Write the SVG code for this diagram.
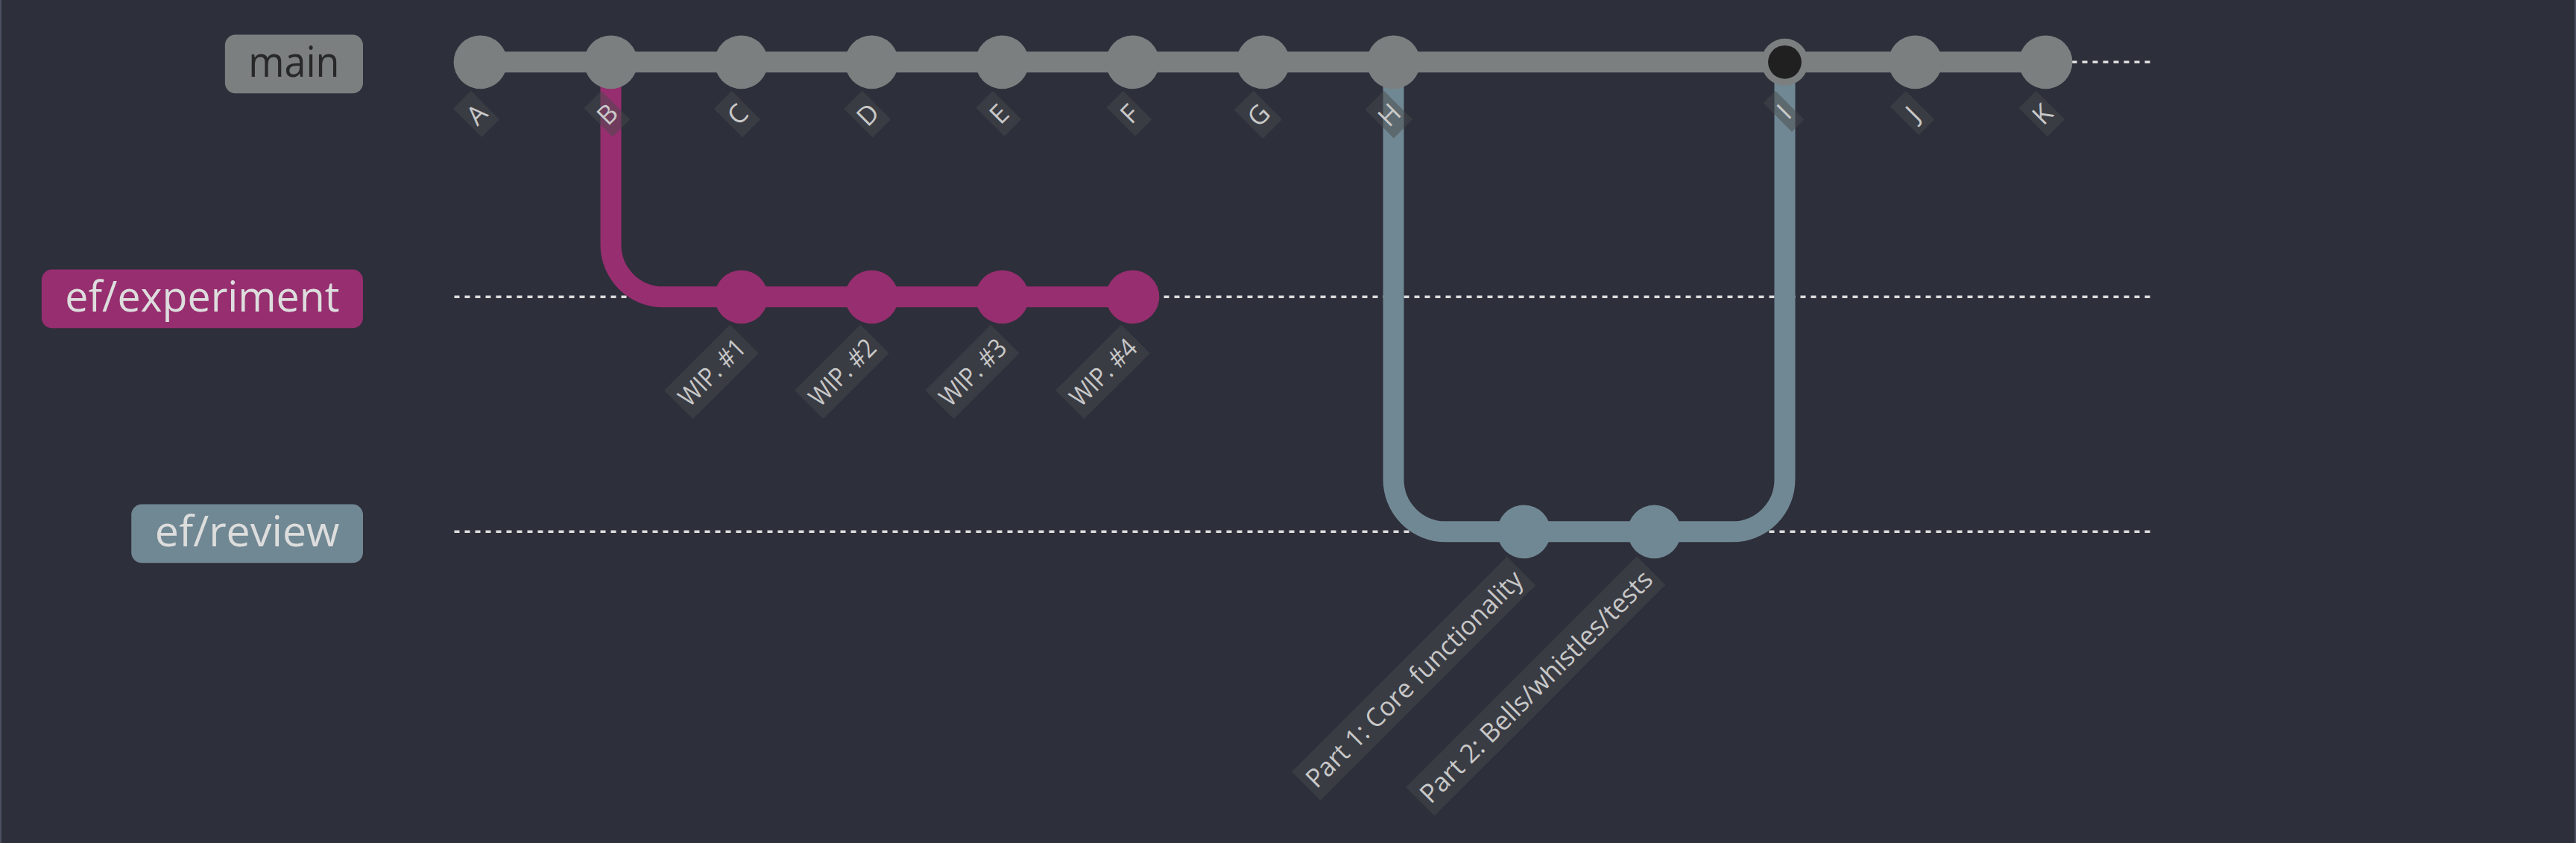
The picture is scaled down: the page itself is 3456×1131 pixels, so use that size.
<svg xmlns="http://www.w3.org/2000/svg" width="3456" height="1131" viewBox="0 0 3456 1131">
<style>
.bg{fill:#2d2f3b}
.edge{fill:#4b5061}
.lane{stroke:#dddddd;stroke-width:1;stroke-dasharray:2;fill:none}
.arrow{stroke-width:8;fill:none}
.c0{fill:#7b7f7f}
.c1{fill:#962e6f}
.c2{fill:#708893}
.a0{stroke:#7b7f7f}
.a1{stroke:#962e6f}
.a2{stroke:#708893}
.mergein{fill:#1f201f}
.lbl{fill:#474a4c;opacity:0.5}
.ltxt{font-family:"Open Sans","Noto Sans","Liberation Sans",sans-serif;font-size:10px;fill:#c8c8c8;text-anchor:middle}
.btxt{font-family:"Open Sans","Noto Sans","Liberation Sans",sans-serif;font-size:16px}
</style>
<rect class="bg" x="0" y="0" width="3456" height="1131"/>
<rect class="edge" x="0" y="0" width="2" height="1131"/>
<rect class="edge" x="3454" y="0" width="2" height="1131"/>
<g transform="translate(609.5,83.3) scale(3.5)">
  <g id="lanes">
    <line class="lane" x1="0" y1="0" x2="650" y2="0"/>
    <line class="lane" x1="0" y1="90" x2="650" y2="90"/>
    <line class="lane" x1="0" y1="180" x2="650" y2="180"/>
  </g>
  <g id="branch-main">
    <rect class="c0" x="-87.9" y="-10.5" width="52.9" height="22.5" rx="4" ry="4"/>
    <text class="btxt" x="-78.9" y="5.75" fill="#282828" textLength="34.9" lengthAdjust="spacingAndGlyphs">main</text>
  </g>
  <g id="branch-experiment">
    <rect class="c1" x="-158.2" y="79.5" width="123.2" height="22.5" rx="4" ry="4"/>
    <text class="btxt" x="-149.2" y="95.75" fill="#dddddd" textLength="105.2" lengthAdjust="spacingAndGlyphs">ef/experiment</text>
  </g>
  <g id="branch-review">
    <rect class="c2" x="-123.8" y="169.5" width="88.8" height="22.5" rx="4" ry="4"/>
    <text class="btxt" x="-114.8" y="185.75" fill="#dddddd" textLength="70.8" lengthAdjust="spacingAndGlyphs">ef/review</text>
  </g>
  <g id="connectors">
    <path class="arrow a0" d="M10 0 L60 0"/>
    <path class="arrow a0" d="M60 0 L110 0"/>
    <path class="arrow a0" d="M110 0 L160 0"/>
    <path class="arrow a0" d="M160 0 L210 0"/>
    <path class="arrow a0" d="M210 0 L260 0"/>
    <path class="arrow a0" d="M260 0 L310 0"/>
    <path class="arrow a0" d="M310 0 L360 0"/>
    <path class="arrow a0" d="M360 0 L510 0"/>
    <path class="arrow a0" d="M510 0 L560 0"/>
    <path class="arrow a0" d="M560 0 L610 0"/>
    <path class="arrow a1" d="M60 0 L60 70 A20 20 0 0 0 80 90 L110 90"/>
    <path class="arrow a1" d="M110 90 L160 90"/>
    <path class="arrow a1" d="M160 90 L210 90"/>
    <path class="arrow a1" d="M210 90 L260 90"/>
    <path class="arrow a2" d="M360 0 L360 160 A20 20 0 0 0 380 180 L410 180"/>
    <path class="arrow a2" d="M410 180 L460 180"/>
    <path class="arrow a2" d="M460 180 L490 180 A20 20 0 0 0 510 160 L510 0"/>
  </g>
  <g id="commit-A"><circle class="c0" cx="10" cy="0" r="10.25"/></g>
  <g id="commit-B"><circle class="c0" cx="60" cy="0" r="10.25"/></g>
  <g id="commit-C"><circle class="c0" cx="110" cy="0" r="10.25"/></g>
  <g id="commit-D"><circle class="c0" cx="160" cy="0" r="10.25"/></g>
  <g id="commit-E"><circle class="c0" cx="210" cy="0" r="10.25"/></g>
  <g id="commit-F"><circle class="c0" cx="260" cy="0" r="10.25"/></g>
  <g id="commit-G"><circle class="c0" cx="310" cy="0" r="10.25"/></g>
  <g id="commit-H"><circle class="c0" cx="360" cy="0" r="10.25"/></g>
  <g id="commit-I"><circle class="c0" cx="510" cy="0" r="9"/><circle class="mergein" cx="510" cy="0" r="6.4"/></g>
  <g id="commit-J"><circle class="c0" cx="560" cy="0" r="10.25"/></g>
  <g id="commit-K"><circle class="c0" cx="610" cy="0" r="10.25"/></g>
  <g id="commit-WIP1"><circle class="c1" cx="110" cy="90" r="10.25"/></g>
  <g id="commit-WIP2"><circle class="c1" cx="160" cy="90" r="10.25"/></g>
  <g id="commit-WIP3"><circle class="c1" cx="210" cy="90" r="10.25"/></g>
  <g id="commit-WIP4"><circle class="c1" cx="260" cy="90" r="10.25"/></g>
  <g id="commit-Part1"><circle class="c2" cx="410" cy="180" r="10.25"/></g>
  <g id="commit-Part2"><circle class="c2" cx="460" cy="180" r="10.25"/></g>
  <g id="labels">
    <g transform="translate(6.35,11.02) rotate(-45)"><rect class="lbl" x="-9.6" y="0" width="9.6" height="15.5"/><text class="ltxt" x="-4.8" y="11.5">A</text></g>
    <g transform="translate(56.36,11.03) rotate(-45)"><rect class="lbl" x="-9.4" y="0" width="9.4" height="15.5"/><text class="ltxt" x="-4.7" y="11.5">B</text></g>
    <g transform="translate(106.35,11.02) rotate(-45)"><rect class="lbl" x="-9.7" y="0" width="9.7" height="15.5"/><text class="ltxt" x="-4.85" y="11.5">C</text></g>
    <g transform="translate(156.35,11.02) rotate(-45)"><rect class="lbl" x="-9.8" y="0" width="9.8" height="15.5"/><text class="ltxt" x="-4.9" y="11.5">D</text></g>
    <g transform="translate(206.37,11.03) rotate(-45)"><rect class="lbl" x="-9.1" y="0" width="9.1" height="15.5"/><text class="ltxt" x="-4.55" y="11.5">E</text></g>
    <g transform="translate(256.37,11.03) rotate(-45)"><rect class="lbl" x="-9" y="0" width="9" height="15.5"/><text class="ltxt" x="-4.5" y="11.5">F</text></g>
    <g transform="translate(306.33,11.01) rotate(-45)"><rect class="lbl" x="-10.4" y="0" width="10.4" height="15.5"/><text class="ltxt" x="-5.2" y="11.5">G</text></g>
    <g transform="translate(356.34,11.02) rotate(-45)"><rect class="lbl" x="-10.2" y="0" width="10.2" height="15.5"/><text class="ltxt" x="-5.1" y="11.5">H</text></g>
    <g transform="translate(506.43,11.06) rotate(-45)"><rect class="lbl" x="-6.6" y="0" width="6.6" height="15.5"/><text class="ltxt" x="-3.3" y="11.5">I</text></g>
    <g transform="translate(556.38,11.04) rotate(-45)"><rect class="lbl" x="-8.5" y="0" width="8.5" height="15.5"/><text class="ltxt" x="-4.25" y="11.5">J</text></g>
    <g transform="translate(606.36,11.03) rotate(-45)"><rect class="lbl" x="-9.3" y="0" width="9.3" height="15.5"/><text class="ltxt" x="-4.65" y="11.5">K</text></g>
    <g transform="translate(105.67,100.67) rotate(-45)"><rect class="lbl" x="-35.6" y="0" width="35.6" height="15.5"/><text class="ltxt" x="-17.8" y="11.5" textLength="31.6" lengthAdjust="spacingAndGlyphs">WIP. #1</text></g>
    <g transform="translate(155.67,100.67) rotate(-45)"><rect class="lbl" x="-35.6" y="0" width="35.6" height="15.5"/><text class="ltxt" x="-17.8" y="11.5" textLength="31.6" lengthAdjust="spacingAndGlyphs">WIP. #2</text></g>
    <g transform="translate(205.67,100.67) rotate(-45)"><rect class="lbl" x="-35.6" y="0" width="35.6" height="15.5"/><text class="ltxt" x="-17.8" y="11.5" textLength="31.6" lengthAdjust="spacingAndGlyphs">WIP. #3</text></g>
    <g transform="translate(255.67,100.67) rotate(-45)"><rect class="lbl" x="-35.6" y="0" width="35.6" height="15.5"/><text class="ltxt" x="-17.8" y="11.5" textLength="31.6" lengthAdjust="spacingAndGlyphs">WIP. #4</text></g>
    <g transform="translate(403.52,189.57) rotate(-45)"><rect class="lbl" x="-116.7" y="0" width="116.7" height="15.5"/><text class="ltxt" x="-58.35" y="11.5" textLength="112.7" lengthAdjust="spacingAndGlyphs">Part 1: Core functionality</text></g>
    <g transform="translate(453.3,189.45) rotate(-45)"><rect class="lbl" x="-125.2" y="0" width="125.2" height="15.5"/><text class="ltxt" x="-62.6" y="11.5" textLength="121.2" lengthAdjust="spacingAndGlyphs">Part 2: Bells/whistles/tests</text></g>
  </g>
</g>
</svg>
